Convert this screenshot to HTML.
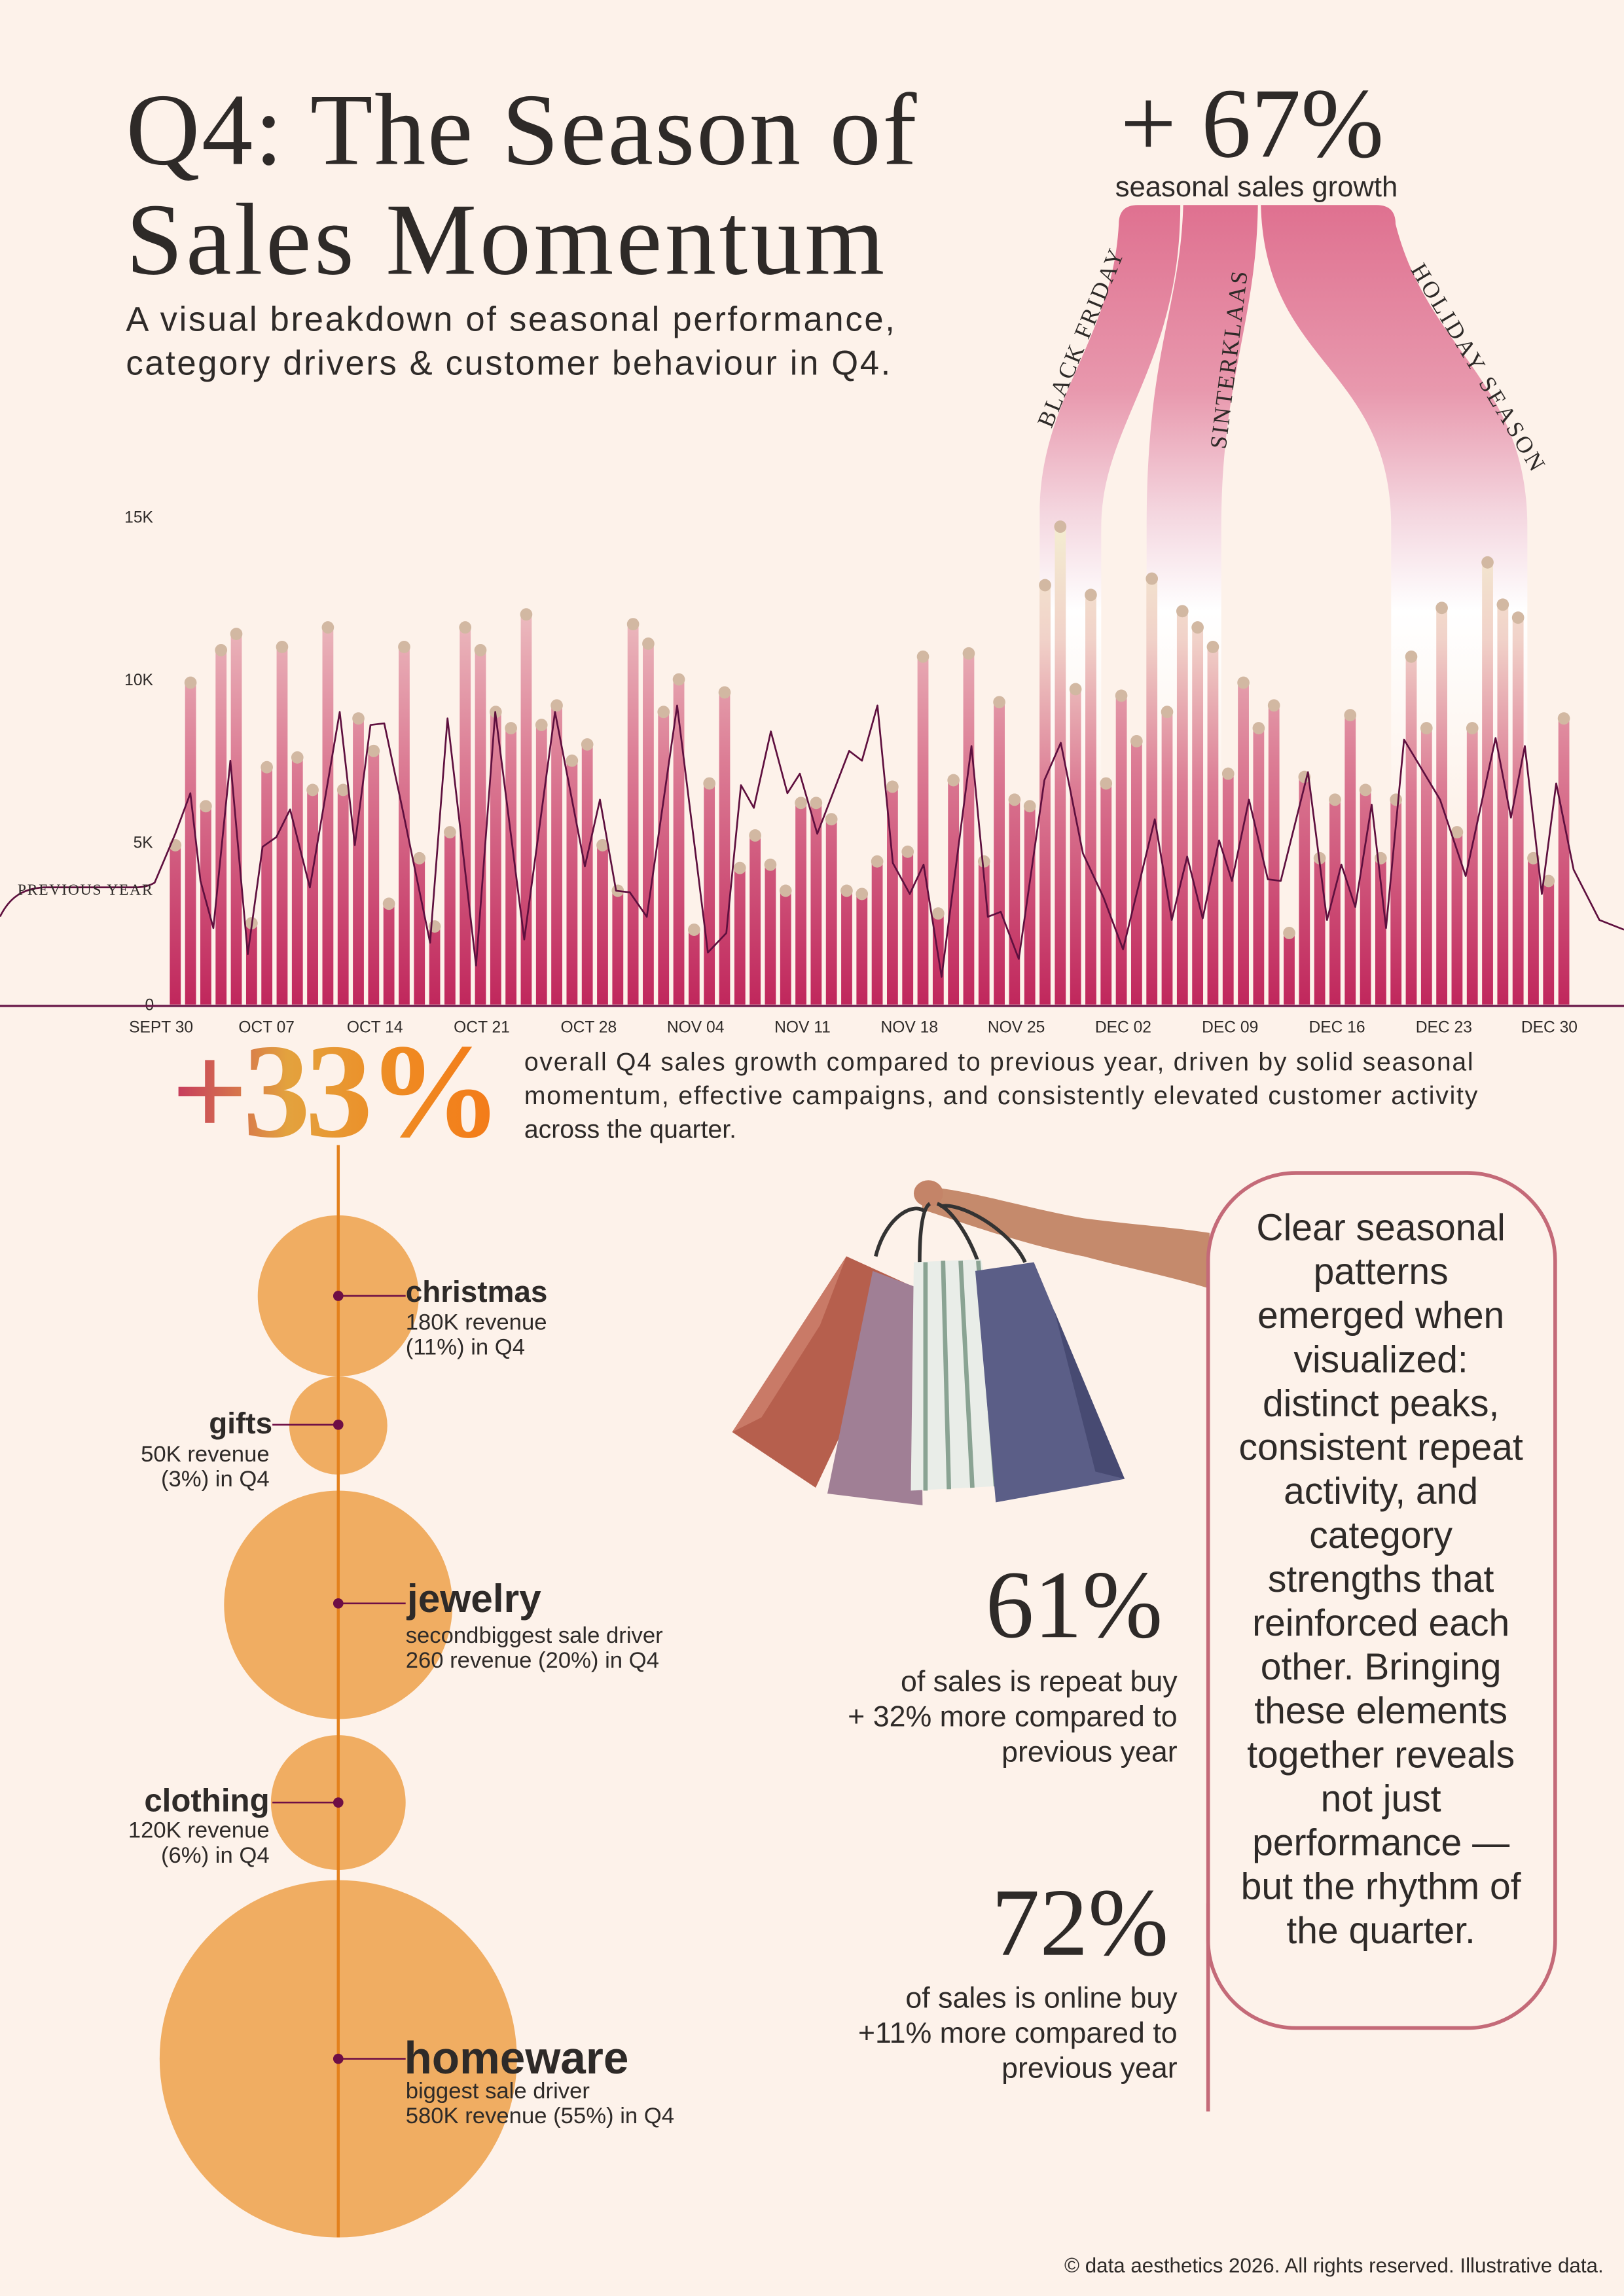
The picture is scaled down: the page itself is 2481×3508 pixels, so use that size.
<!DOCTYPE html>
<html><head><meta charset="utf-8"><style>html,body{margin:0;padding:0;background:#fdf2ea;}svg{display:block}</style></head>
<body>
<svg xmlns="http://www.w3.org/2000/svg" width="2481" height="3508" viewBox="0 0 1109 1568" preserveAspectRatio="none">
<defs>
<linearGradient id="rib" gradientUnits="userSpaceOnUse" x1="0" y1="140" x2="0" y2="560">
<stop offset="0" stop-color="#df7190"/><stop offset="0.3" stop-color="#e898ad"/><stop offset="0.5" stop-color="#f4d6df"/><stop offset="0.66" stop-color="#ffffff"/><stop offset="1" stop-color="#fdf2ea"/>
</linearGradient>
<linearGradient id="bar" gradientUnits="userSpaceOnUse" x1="0" y1="0" x2="0" y2="15">
<stop offset="0" stop-color="#c0275c"/><stop offset="0.5" stop-color="#dc7d95"/><stop offset="1" stop-color="#f6e3da"/>
</linearGradient>
<linearGradient id="bar2" gradientUnits="userSpaceOnUse" x1="0" y1="0" x2="0" y2="15">
<stop offset="0" stop-color="#c0275c"/><stop offset="0.45" stop-color="#dc7d95"/><stop offset="0.75" stop-color="#f1d2c9"/><stop offset="1" stop-color="#f4efd2"/>
</linearGradient>
<linearGradient id="g33" x1="0" y1="0" x2="1" y2="0">
<stop offset="0" stop-color="#c5385f"/><stop offset="0.35" stop-color="#e3a23e"/><stop offset="0.7" stop-color="#ef8a22"/><stop offset="1" stop-color="#f47a18"/>
</linearGradient>
</defs>
<rect width="1109" height="1568" fill="#fdf2ea"/>

<path d="M764,153 Q764,140 777,140 L806,140 C806,250 752,290 752,360 L752,686 L710,686 L710,346 C712,270 760,230 764,153 Z" fill="url(#rib)"/>
<path d="M808,140 L859,140 C858,220 834,260 834,360 L834,686 L783,686 L783,360 C783,240 806,210 808,140 Z" fill="url(#rib)"/>
<path d="M861,140 L940,140 Q953,140 953,153 C975,240 1043,260 1043,360 L1043,686 L950,686 L950,360 C950,250 864,250 861,140 Z" fill="url(#rib)"/>

<text x="855" y="107" font-family="Liberation Serif, serif" font-size="68" fill="#2e2a28" text-anchor="middle">+ 67%</text>
<text x="858" y="134" font-family="Liberation Sans, sans-serif" font-size="19.5" fill="#2e2a28" text-anchor="middle">seasonal sales growth</text>
<text transform="translate(718,293) rotate(-67.5)" font-family="Liberation Serif, serif" font-size="16" fill="#2e2a28" textLength="130">BLACK FRIDAY</text>
<text transform="translate(837,307) rotate(-83)" font-family="Liberation Serif, serif" font-size="16" fill="#2e2a28" textLength="122">SINTERKLAAS</text>
<text transform="translate(963,184) rotate(59)" font-family="Liberation Serif, serif" font-size="16" fill="#2e2a28" textLength="162">HOLIDAY SEASON</text>

<text x="86" y="112" font-family="Liberation Serif, serif" font-size="70" fill="#2e2a28" textLength="540">Q4: The Season of</text>
<text x="86" y="187" font-family="Liberation Serif, serif" font-size="70" fill="#2e2a28" textLength="518">Sales Momentum</text>
<text x="86" y="226" font-family="Liberation Sans, sans-serif" font-size="23.5" fill="#2e2a28" textLength="525">A visual breakdown of seasonal performance,</text>
<text x="86" y="256" font-family="Liberation Sans, sans-serif" font-size="23.5" fill="#2e2a28" textLength="522">category drivers &amp; customer behaviour in Q4.</text>

<g font-family="Liberation Sans, sans-serif" font-size="11" fill="#2e2a28">
<text x="85" y="357">15K</text><text x="85" y="468">10K</text><text x="91" y="579">5K</text><text x="99" y="690">0</text>
<g text-anchor="middle">
<text x="110" y="705">SEPT 30</text><text x="182" y="705">OCT 07</text><text x="256" y="705">OCT 14</text><text x="329" y="705">OCT 21</text><text x="402" y="705">OCT 28</text><text x="475" y="705">NOV 04</text><text x="548" y="705">NOV 11</text><text x="621" y="705">NOV 18</text><text x="694" y="705">NOV 25</text><text x="767" y="705">DEC 02</text><text x="840" y="705">DEC 09</text><text x="913" y="705">DEC 16</text><text x="986" y="705">DEC 23</text><text x="1058" y="705">DEC 30</text>
</g></g>

<g transform="translate(119.7,686) scale(10.42,-22.2)" fill="url(#bar)">
<rect x="-0.36" width="0.72" y="0" height="4.9"/><rect x="0.64" width="0.72" y="0" height="9.9"/><rect x="1.64" width="0.72" y="0" height="6.1"/><rect x="2.64" width="0.72" y="0" height="10.9"/><rect x="3.64" width="0.72" y="0" height="11.4"/><rect x="4.64" width="0.72" y="0" height="2.5"/><rect x="5.64" width="0.72" y="0" height="7.3"/><rect x="6.64" width="0.72" y="0" height="11.0"/><rect x="7.64" width="0.72" y="0" height="7.6"/><rect x="8.64" width="0.72" y="0" height="6.6"/>
<rect x="9.64" width="0.72" y="0" height="11.6"/><rect x="10.64" width="0.72" y="0" height="6.6"/><rect x="11.64" width="0.72" y="0" height="8.8"/><rect x="12.64" width="0.72" y="0" height="7.8"/><rect x="13.64" width="0.72" y="0" height="3.1"/><rect x="14.64" width="0.72" y="0" height="11.0"/><rect x="15.64" width="0.72" y="0" height="4.5"/><rect x="16.64" width="0.72" y="0" height="2.4"/><rect x="17.64" width="0.72" y="0" height="5.3"/><rect x="18.64" width="0.72" y="0" height="11.6"/>
<rect x="19.64" width="0.72" y="0" height="10.9"/><rect x="20.64" width="0.72" y="0" height="9.0"/><rect x="21.64" width="0.72" y="0" height="8.5"/><rect x="22.64" width="0.72" y="0" height="12.0"/><rect x="23.64" width="0.72" y="0" height="8.6"/><rect x="24.64" width="0.72" y="0" height="9.2"/><rect x="25.64" width="0.72" y="0" height="7.5"/><rect x="26.64" width="0.72" y="0" height="8.0"/><rect x="27.64" width="0.72" y="0" height="4.9"/><rect x="28.64" width="0.72" y="0" height="3.5"/>
<rect x="29.64" width="0.72" y="0" height="11.7"/><rect x="30.64" width="0.72" y="0" height="11.1"/><rect x="31.64" width="0.72" y="0" height="9.0"/><rect x="32.64" width="0.72" y="0" height="10.0"/><rect x="33.64" width="0.72" y="0" height="2.3"/><rect x="34.64" width="0.72" y="0" height="6.8"/><rect x="35.64" width="0.72" y="0" height="9.6"/><rect x="36.64" width="0.72" y="0" height="4.2"/><rect x="37.64" width="0.72" y="0" height="5.2"/><rect x="38.64" width="0.72" y="0" height="4.3"/>
<rect x="39.64" width="0.72" y="0" height="3.5"/><rect x="40.64" width="0.72" y="0" height="6.2"/><rect x="41.64" width="0.72" y="0" height="6.2"/><rect x="42.64" width="0.72" y="0" height="5.7"/><rect x="43.64" width="0.72" y="0" height="3.5"/><rect x="44.64" width="0.72" y="0" height="3.4"/><rect x="45.64" width="0.72" y="0" height="4.4"/><rect x="46.64" width="0.72" y="0" height="6.7"/><rect x="47.64" width="0.72" y="0" height="4.7"/><rect x="48.64" width="0.72" y="0" height="10.7"/>
<rect x="49.64" width="0.72" y="0" height="2.8"/><rect x="50.64" width="0.72" y="0" height="6.9"/><rect x="51.64" width="0.72" y="0" height="10.8"/><rect x="52.64" width="0.72" y="0" height="4.4"/><rect x="53.64" width="0.72" y="0" height="9.3"/><rect x="54.64" width="0.72" y="0" height="6.3"/><rect x="55.64" width="0.72" y="0" height="6.1"/>
<rect x="56.64" width="0.72" y="0" height="12.9" fill="url(#bar2)"/><rect x="57.64" width="0.72" y="0" height="14.7" fill="url(#bar2)"/><rect x="58.64" width="0.72" y="0" height="9.7" fill="url(#bar2)"/><rect x="59.64" width="0.72" y="0" height="12.6" fill="url(#bar2)"/>
<rect x="60.64" width="0.72" y="0" height="6.8"/><rect x="61.64" width="0.72" y="0" height="9.5"/><rect x="62.64" width="0.72" y="0" height="8.1"/>
<rect x="63.64" width="0.72" y="0" height="13.1" fill="url(#bar2)"/><rect x="64.64" width="0.72" y="0" height="9.0" fill="url(#bar2)"/><rect x="65.64" width="0.72" y="0" height="12.1" fill="url(#bar2)"/><rect x="66.64" width="0.72" y="0" height="11.6" fill="url(#bar2)"/><rect x="67.64" width="0.72" y="0" height="11.0" fill="url(#bar2)"/>
<rect x="68.64" width="0.72" y="0" height="7.1"/><rect x="69.64" width="0.72" y="0" height="9.9"/><rect x="70.64" width="0.72" y="0" height="8.5"/><rect x="71.64" width="0.72" y="0" height="9.2"/><rect x="72.64" width="0.72" y="0" height="2.2"/><rect x="73.64" width="0.72" y="0" height="7.0"/><rect x="74.64" width="0.72" y="0" height="4.5"/><rect x="75.64" width="0.72" y="0" height="6.3"/><rect x="76.64" width="0.72" y="0" height="8.9"/><rect x="77.64" width="0.72" y="0" height="6.6"/><rect x="78.64" width="0.72" y="0" height="4.5"/>
<rect x="79.64" width="0.72" y="0" height="6.3" fill="url(#bar2)"/><rect x="80.64" width="0.72" y="0" height="10.7" fill="url(#bar2)"/><rect x="81.64" width="0.72" y="0" height="8.5" fill="url(#bar2)"/><rect x="82.64" width="0.72" y="0" height="12.2" fill="url(#bar2)"/><rect x="83.64" width="0.72" y="0" height="5.3" fill="url(#bar2)"/><rect x="84.64" width="0.72" y="0" height="8.5" fill="url(#bar2)"/><rect x="85.64" width="0.72" y="0" height="13.6" fill="url(#bar2)"/><rect x="86.64" width="0.72" y="0" height="12.3" fill="url(#bar2)"/><rect x="87.64" width="0.72" y="0" height="11.9" fill="url(#bar2)"/>
<rect x="88.64" width="0.72" y="0" height="4.5"/><rect x="89.64" width="0.72" y="0" height="3.8"/><rect x="90.64" width="0.72" y="0" height="8.8"/>
</g>
<g transform="translate(119.7,686) scale(10.42,-22.2)" fill="#d2b8a2">
<ellipse rx="0.4" ry="0.19" cx="0" cy="4.9"/><ellipse rx="0.4" ry="0.19" cx="1" cy="9.9"/><ellipse rx="0.4" ry="0.19" cx="2" cy="6.1"/><ellipse rx="0.4" ry="0.19" cx="3" cy="10.9"/><ellipse rx="0.4" ry="0.19" cx="4" cy="11.4"/><ellipse rx="0.4" ry="0.19" cx="5" cy="2.5"/><ellipse rx="0.4" ry="0.19" cx="6" cy="7.3"/><ellipse rx="0.4" ry="0.19" cx="7" cy="11.0"/><ellipse rx="0.4" ry="0.19" cx="8" cy="7.6"/><ellipse rx="0.4" ry="0.19" cx="9" cy="6.6"/>
<ellipse rx="0.4" ry="0.19" cx="10" cy="11.6"/><ellipse rx="0.4" ry="0.19" cx="11" cy="6.6"/><ellipse rx="0.4" ry="0.19" cx="12" cy="8.8"/><ellipse rx="0.4" ry="0.19" cx="13" cy="7.8"/><ellipse rx="0.4" ry="0.19" cx="14" cy="3.1"/><ellipse rx="0.4" ry="0.19" cx="15" cy="11.0"/><ellipse rx="0.4" ry="0.19" cx="16" cy="4.5"/><ellipse rx="0.4" ry="0.19" cx="17" cy="2.4"/><ellipse rx="0.4" ry="0.19" cx="18" cy="5.3"/><ellipse rx="0.4" ry="0.19" cx="19" cy="11.6"/>
<ellipse rx="0.4" ry="0.19" cx="20" cy="10.9"/><ellipse rx="0.4" ry="0.19" cx="21" cy="9.0"/><ellipse rx="0.4" ry="0.19" cx="22" cy="8.5"/><ellipse rx="0.4" ry="0.19" cx="23" cy="12.0"/><ellipse rx="0.4" ry="0.19" cx="24" cy="8.6"/><ellipse rx="0.4" ry="0.19" cx="25" cy="9.2"/><ellipse rx="0.4" ry="0.19" cx="26" cy="7.5"/><ellipse rx="0.4" ry="0.19" cx="27" cy="8.0"/><ellipse rx="0.4" ry="0.19" cx="28" cy="4.9"/><ellipse rx="0.4" ry="0.19" cx="29" cy="3.5"/>
<ellipse rx="0.4" ry="0.19" cx="30" cy="11.7"/><ellipse rx="0.4" ry="0.19" cx="31" cy="11.1"/><ellipse rx="0.4" ry="0.19" cx="32" cy="9.0"/><ellipse rx="0.4" ry="0.19" cx="33" cy="10.0"/><ellipse rx="0.4" ry="0.19" cx="34" cy="2.3"/><ellipse rx="0.4" ry="0.19" cx="35" cy="6.8"/><ellipse rx="0.4" ry="0.19" cx="36" cy="9.6"/><ellipse rx="0.4" ry="0.19" cx="37" cy="4.2"/><ellipse rx="0.4" ry="0.19" cx="38" cy="5.2"/><ellipse rx="0.4" ry="0.19" cx="39" cy="4.3"/>
<ellipse rx="0.4" ry="0.19" cx="40" cy="3.5"/><ellipse rx="0.4" ry="0.19" cx="41" cy="6.2"/><ellipse rx="0.4" ry="0.19" cx="42" cy="6.2"/><ellipse rx="0.4" ry="0.19" cx="43" cy="5.7"/><ellipse rx="0.4" ry="0.19" cx="44" cy="3.5"/><ellipse rx="0.4" ry="0.19" cx="45" cy="3.4"/><ellipse rx="0.4" ry="0.19" cx="46" cy="4.4"/><ellipse rx="0.4" ry="0.19" cx="47" cy="6.7"/><ellipse rx="0.4" ry="0.19" cx="48" cy="4.7"/><ellipse rx="0.4" ry="0.19" cx="49" cy="10.7"/>
<ellipse rx="0.4" ry="0.19" cx="50" cy="2.8"/><ellipse rx="0.4" ry="0.19" cx="51" cy="6.9"/><ellipse rx="0.4" ry="0.19" cx="52" cy="10.8"/><ellipse rx="0.4" ry="0.19" cx="53" cy="4.4"/><ellipse rx="0.4" ry="0.19" cx="54" cy="9.3"/><ellipse rx="0.4" ry="0.19" cx="55" cy="6.3"/><ellipse rx="0.4" ry="0.19" cx="56" cy="6.1"/><ellipse rx="0.4" ry="0.19" cx="57" cy="12.9"/><ellipse rx="0.4" ry="0.19" cx="58" cy="14.7"/><ellipse rx="0.4" ry="0.19" cx="59" cy="9.7"/>
<ellipse rx="0.4" ry="0.19" cx="60" cy="12.6"/><ellipse rx="0.4" ry="0.19" cx="61" cy="6.8"/><ellipse rx="0.4" ry="0.19" cx="62" cy="9.5"/><ellipse rx="0.4" ry="0.19" cx="63" cy="8.1"/><ellipse rx="0.4" ry="0.19" cx="64" cy="13.1"/><ellipse rx="0.4" ry="0.19" cx="65" cy="9.0"/><ellipse rx="0.4" ry="0.19" cx="66" cy="12.1"/><ellipse rx="0.4" ry="0.19" cx="67" cy="11.6"/><ellipse rx="0.4" ry="0.19" cx="68" cy="11.0"/><ellipse rx="0.4" ry="0.19" cx="69" cy="7.1"/>
<ellipse rx="0.4" ry="0.19" cx="70" cy="9.9"/><ellipse rx="0.4" ry="0.19" cx="71" cy="8.5"/><ellipse rx="0.4" ry="0.19" cx="72" cy="9.2"/><ellipse rx="0.4" ry="0.19" cx="73" cy="2.2"/><ellipse rx="0.4" ry="0.19" cx="74" cy="7.0"/><ellipse rx="0.4" ry="0.19" cx="75" cy="4.5"/><ellipse rx="0.4" ry="0.19" cx="76" cy="6.3"/><ellipse rx="0.4" ry="0.19" cx="77" cy="8.9"/><ellipse rx="0.4" ry="0.19" cx="78" cy="6.6"/><ellipse rx="0.4" ry="0.19" cx="79" cy="4.5"/>
<ellipse rx="0.4" ry="0.19" cx="80" cy="6.3"/><ellipse rx="0.4" ry="0.19" cx="81" cy="10.7"/><ellipse rx="0.4" ry="0.19" cx="82" cy="8.5"/><ellipse rx="0.4" ry="0.19" cx="83" cy="12.2"/><ellipse rx="0.4" ry="0.19" cx="84" cy="5.3"/><ellipse rx="0.4" ry="0.19" cx="85" cy="8.5"/><ellipse rx="0.4" ry="0.19" cx="86" cy="13.6"/><ellipse rx="0.4" ry="0.19" cx="87" cy="12.3"/><ellipse rx="0.4" ry="0.19" cx="88" cy="11.9"/><ellipse rx="0.4" ry="0.19" cx="89" cy="4.5"/>
<ellipse rx="0.4" ry="0.19" cx="90" cy="3.8"/><ellipse rx="0.4" ry="0.19" cx="91" cy="8.8"/>
</g>

<path d="M0,626 C6,614 14,607 30,606 L92,606 C98,606 102,605 105.6,602.8 L119.7,569.4 L130,541.7 L136.9,601.6 L145.7,633.8 L157.3,519.5 L169.2,651.6 L179.3,578.3 L188.7,571.7 L198.1,552.8 L211.6,606.1 L232,486.2 L242.3,577.2 L253,495.1 L262.4,494 L274.9,552.8 L293.7,643.8 L305.6,490.6 L325.1,659.4 L338.2,486.2 L358,641.6 L379,486.2 L399.4,591.7 L409.7,546.1 L420.7,608.3 L430.1,609.4 L441.7,626.1 L462.4,481.8 L483.4,650.5 L496,637.2 L506,536.2 L514.8,551.7 L526.4,499.5 L537.7,541.7 L546.2,528.4 L558.1,569.4 L579.9,512.8 L588.6,519.5 L599.2,481.8 L609.7,589.4 L621.3,610.5 L630.7,590.5 L643,667.1 L663.4,509.5 L674.6,626.1 L683.4,622.7 L695.7,654.9 L713.2,532.8 L724.4,507.3 L739.5,582.8 L753.5,612.7 L766.9,648.3 L788.6,559.5 L800.2,628.3 L810.7,585 L821.3,627.2 L832.5,573.9 L841.3,601.6 L852.9,546.1 L865.8,600.5 L874.6,601.6 L893.2,527.3 L906.2,628.3 L916,590.5 L925.5,619.4 L936.7,549.5 L946.5,633.8 L958.8,505.1 L983.4,546.1 L1000.9,598.3 L1021.3,504 L1031.8,558.4 L1041.3,509.5 L1052.9,610.5 L1062.7,535 L1074.6,593.9 L1092.2,628.3 L1109,634.9" fill="none" stroke="#5e0f3e" stroke-width="1.2" stroke-linejoin="round"/>
<text x="12" y="611" font-family="Liberation Serif, serif" font-size="10.5" fill="#2e2a28" textLength="92">PREVIOUS YEAR</text>
<line x1="0" y1="687" x2="1109" y2="687" stroke="#6a1a4a" stroke-width="1.5"/>

<text x="117" y="776" font-family="Liberation Serif, serif" font-weight="bold" font-size="92" fill="url(#g33)" textLength="226">+33%</text>
<g font-family="Liberation Sans, sans-serif" font-size="17.5" fill="#2e2a28">
<text x="358" y="731" textLength="648">overall Q4 sales growth compared to previous year, driven by solid seasonal</text>
<text x="358" y="754" textLength="651">momentum, effective campaigns, and consistently elevated customer activity</text>
<text x="358" y="777">across the quarter.</text>
</g>

<g fill="#f0ad62">
<circle cx="231" cy="885" r="55"/><circle cx="231" cy="973.5" r="33.5"/><circle cx="231" cy="1096" r="78"/><circle cx="231" cy="1231" r="46"/><circle cx="231" cy="1406" r="122"/>
</g>
<line x1="231" y1="782" x2="231" y2="1528" stroke="#e3811d" stroke-width="2"/>
<g stroke="#6e0e45" stroke-width="1.2">
<line x1="231" y1="885" x2="277" y2="885"/><line x1="186" y1="973" x2="231" y2="973"/><line x1="231" y1="1095" x2="277" y2="1095"/><line x1="186" y1="1231" x2="231" y2="1231"/><line x1="231" y1="1406" x2="277" y2="1406"/>
</g>
<g fill="#6e0e45"><circle cx="231" cy="885" r="3.5"/><circle cx="231" cy="973" r="3.5"/><circle cx="231" cy="1095" r="3.5"/><circle cx="231" cy="1231" r="3.5"/><circle cx="231" cy="1406" r="3.5"/></g>
<g font-family="Liberation Sans, sans-serif" fill="#2e2a28">
<text x="277" y="889" font-size="20.5" font-weight="bold">christmas</text>
<text x="277" y="908" font-size="15.5">180K revenue</text><text x="277" y="925" font-size="15.5">(11%) in Q4</text>
<text x="186" y="979" font-size="20.5" font-weight="bold" text-anchor="end">gifts</text>
<text x="184" y="998" font-size="15.5" text-anchor="end">50K revenue</text><text x="184" y="1015" font-size="15.5" text-anchor="end">(3%) in Q4</text>
<text x="278" y="1101" font-size="27" font-weight="bold">jewelry</text>
<text x="277" y="1122" font-size="15.5">secondbiggest sale driver</text><text x="277" y="1139" font-size="15.5">260 revenue (20%) in Q4</text>
<text x="184" y="1237" font-size="22" font-weight="bold" text-anchor="end">clothing</text>
<text x="184" y="1255" font-size="15.5" text-anchor="end">120K revenue</text><text x="184" y="1272" font-size="15.5" text-anchor="end">(6%) in Q4</text>
<text x="276" y="1416" font-size="31" font-weight="bold">homeware</text>
<text x="277" y="1433" font-size="15.5">biggest sale driver</text><text x="277" y="1450" font-size="15.5">580K revenue (55%) in Q4</text>
</g>

<path d="M628,810 C660,812 700,825 740,832 C770,836 800,838 826,842 L826,880 C800,872 770,866 740,858 C700,850 660,836 630,826 Z" fill="#c58a6c"/>
<ellipse cx="634" cy="815" rx="10" ry="9" fill="#c48468"/>
<g fill="none" stroke="#333" stroke-width="2.5">
<path d="M598,858 C605,830 625,820 632,828"/><path d="M628,862 C628,840 630,825 635,822"/><path d="M668,862 C660,840 648,825 640,822"/><path d="M700,862 C690,840 655,820 642,824"/>
</g>
<polygon points="500,978 557,1016 622,878 578,858" fill="#b65f4d"/>
<polygon points="500,978 520,968 560,905 578,858" fill="#c97a67"/>
<polygon points="565,1020 630,1028 628,880 596,868" fill="#a07f95"/>
<polygon points="622,1018 700,1014 670,860 624,862" fill="#e9ede8"/>
<g stroke="#8aa393" stroke-width="3"><line x1="632" y1="862" x2="632" y2="1018"/><line x1="644" y1="861" x2="648" y2="1017"/><line x1="656" y1="861" x2="664" y2="1016"/><line x1="668" y1="861" x2="680" y2="1015"/><line x1="680" y1="900" x2="692" y2="1014"/></g>
<polygon points="680,1026 768,1010 706,862 666,868" fill="#5b5e87"/>
<polygon points="720,895 768,1010 748,1005" fill="#474a72"/>

<rect x="825" y="801" width="237" height="584" rx="60" fill="none" stroke="#c46a78" stroke-width="2.5"/>
<line x1="825" y1="1300" x2="825" y2="1442" stroke="#c46a78" stroke-width="2.5"/>
<g font-family="Liberation Sans, sans-serif" font-size="25.5" fill="#2e2a28" text-anchor="middle">
<text x="943" y="847">Clear seasonal</text><text x="943" y="877">patterns</text><text x="943" y="907">emerged when</text><text x="943" y="937">visualized:</text><text x="943" y="967">distinct peaks,</text><text x="943" y="997">consistent repeat</text><text x="943" y="1027">activity, and</text><text x="943" y="1057">category</text><text x="943" y="1087">strengths that</text><text x="943" y="1117">reinforced each</text><text x="943" y="1147">other. Bringing</text><text x="943" y="1177">these elements</text><text x="943" y="1207">together reveals</text><text x="943" y="1237">not just</text><text x="943" y="1267">performance —</text><text x="943" y="1297">but the rhythm of</text><text x="943" y="1327">the quarter.</text>
</g>

<text x="794" y="1118" font-family="Liberation Serif, serif" font-size="66" fill="#2e2a28" text-anchor="end">61%</text>
<g font-family="Liberation Sans, sans-serif" font-size="20" fill="#2e2a28" text-anchor="end">
<text x="804" y="1155">of sales is repeat buy</text><text x="804" y="1179">+ 32% more compared to</text><text x="804" y="1203">previous year</text>
</g>
<text x="798" y="1335" font-family="Liberation Serif, serif" font-size="66" fill="#2e2a28" text-anchor="end">72%</text>
<g font-family="Liberation Sans, sans-serif" font-size="20" fill="#2e2a28" text-anchor="end">
<text x="804" y="1371">of sales is online buy</text><text x="804" y="1395">+11% more compared to</text><text x="804" y="1419">previous year</text>
</g>

<text x="1095" y="1552" font-family="Liberation Sans, sans-serif" font-size="14" fill="#2e2a28" text-anchor="end">© data aesthetics 2026. All rights reserved. Illustrative data.</text>
</svg>
</body></html>
